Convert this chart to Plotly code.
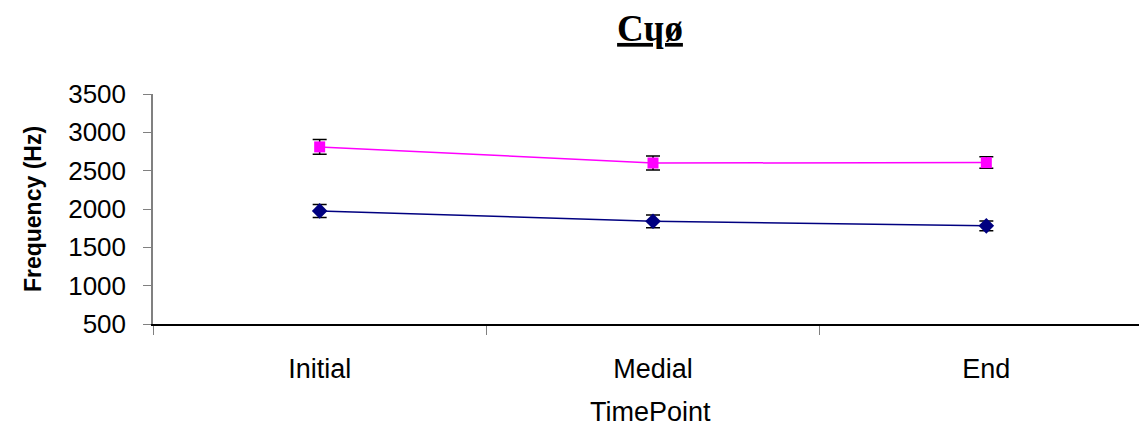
import plotly.graph_objects as go

categories = ["Initial", "Medial", "End"]
series_f2 = [2810, 2600, 2605]
series_f2_err = [95, 90, 75]
series_f1 = [1975, 1840, 1780]
series_f1_err = [85, 83, 65]
y_ticks = [500, 1000, 1500, 2000, 2500, 3000, 3500]
x_title = "TimePoint"

fig = go.Figure()
fig.add_trace(go.Scatter(
    x=categories, y=series_f1, mode="lines+markers",
    line=dict(color="#000080", width=1.5),
    marker=dict(symbol="diamond", size=12, color="#000080"),
    error_y=dict(type="data", array=series_f1_err, color="black", thickness=1.5, width=7),
    showlegend=False,
))
fig.add_trace(go.Scatter(
    x=categories, y=series_f2, mode="lines+markers",
    line=dict(color="#FF00FF", width=1.5),
    marker=dict(symbol="square", size=11, color="#FF00FF"),
    error_y=dict(type="data", array=series_f2_err, color="black", thickness=1.5, width=7),
    showlegend=False,
))

# page has an 8px body margin; figure sized to fill the window from there
W, H = 1139, 421
fig.update_layout(
    width=W, height=H,
    margin=dict(l=145, r=0, t=86, b=105),
    paper_bgcolor="white", plot_bgcolor="white",
    font=dict(family="Liberation Sans, Arial, sans-serif", size=26, color="black"),
    title=dict(
        text="<b><u>Cɥø</u></b>",
        font=dict(family="Liberation Serif, Times New Roman, serif", size=37, color="black"),
        x=0.5, xref="paper", xanchor="center",
        y=1 - 20 / H, yref="container", yanchor="middle",
    ),
    annotations=[dict(
        text=x_title, xref="paper", yref="paper", x=0.5, y=-0.383,
        xanchor="center", yanchor="middle", showarrow=False,
        font=dict(size=27, color="black"),
    )],
)
fig.update_xaxes(
    type="category", range=[-0.5, -0.5 + 994 / 333.33],
    tickson="boundaries", ticks="outside", ticklen=9, tickcolor="#808080",
    showline=True, linecolor="black", linewidth=1.5,
    showgrid=False, zeroline=False, automargin=False,
    ticklabelstandoff=20,
    tickfont=dict(size=27),
)
fig.update_yaxes(
    range=[500, 3500], tickvals=y_ticks, ticks="outside", ticklen=8, tickcolor="#808080",
    showline=True, linecolor="#808080", linewidth=1.5,
    showgrid=False, zeroline=False, automargin=False,
    ticklabelstandoff=12,
    tickfont=dict(size=26),
    title=dict(text="<b>Frequency (Hz)</b>", standoff=20, font=dict(size=23)),
)

fig.write_html("out.html")
